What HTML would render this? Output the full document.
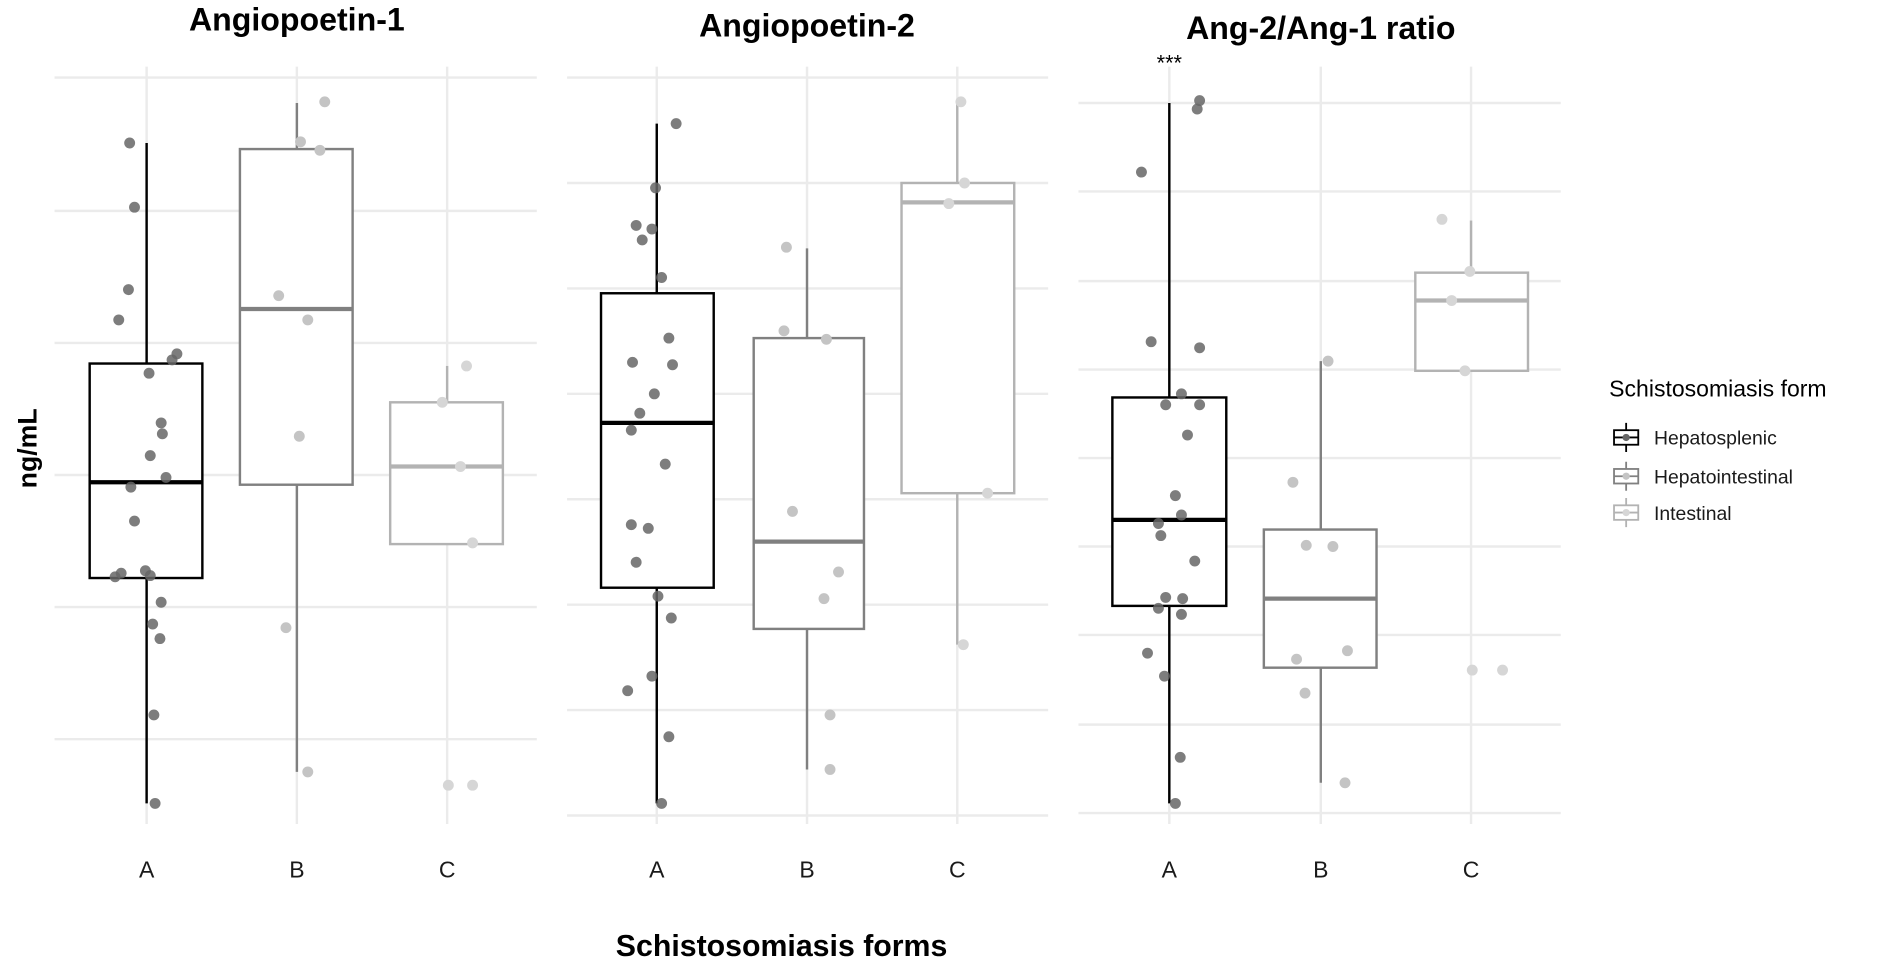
<!DOCTYPE html>
<html><head><meta charset="utf-8"><style>html,body{margin:0;padding:0;background:#fff}svg{display:block}</style></head><body>
<svg width="1900" height="971" viewBox="0 0 1568 801.3" xmlns="http://www.w3.org/2000/svg" font-family="Liberation Sans, Arial, sans-serif">
<g stroke="#ebebeb" stroke-width="2" fill="none">
<path d="M45 64H443M45 174H443M45 283H443M45 392H443M45 501H443M45 610H443M121 55V680M245 55V680M369 55V680"/>
<path d="M468 64H865M468 151H865M468 238H865M468 325H865M468 412H865M468 499H865M468 586H865M468 673H865M542 55V680M666 55V680M790 55V680"/>
<path d="M890 85H1288M890 158H1288M890 232H1288M890 305H1288M890 378H1288M890 451H1288M890 524H1288M890 598H1288M890 671H1288M965 55V680M1090 55V680M1214 55V680"/>
</g>
<g fill="#fff" stroke-width="2">
<g stroke="#000"><path d="M121 118V300M121 477V663"/><rect x="74" y="300" width="93" height="177"/><path d="M74 398H167" stroke-width="3.5"/></g>
<g stroke="#808080"><path d="M245 85V123M245 400V637"/><rect x="198" y="123" width="93" height="277"/><path d="M198 255H291" stroke-width="3.5"/></g>
<g stroke="#b3b3b3"><path d="M369 302V332"/><rect x="322" y="332" width="93" height="117"/><path d="M322 385H415" stroke-width="3.5"/></g>
<g stroke="#000"><path d="M542 102V242M542 485V663"/><rect x="496" y="242" width="93" height="243"/><path d="M496 349H589" stroke-width="3.5"/></g>
<g stroke="#808080"><path d="M666 205V279M666 519V635"/><rect x="622" y="279" width="91" height="240"/><path d="M622 447H713" stroke-width="3.5"/></g>
<g stroke="#b3b3b3"><path d="M790 83V151M790 407V532"/><rect x="744" y="151" width="93" height="256"/><path d="M744 167H837" stroke-width="3.5"/></g>
<g stroke="#000"><path d="M965 85V328M965 500V663"/><rect x="918" y="328" width="94" height="172"/><path d="M918 429H1012" stroke-width="3.5"/></g>
<g stroke="#808080"><path d="M1090 298V437M1090 551V646"/><rect x="1043" y="437" width="93" height="114"/><path d="M1043 494H1136" stroke-width="3.5"/></g>
<g stroke="#b3b3b3"><path d="M1214 182V225"/><rect x="1168" y="225" width="93" height="81"/><path d="M1168 248H1261" stroke-width="3.5"/></g>
</g>
<g fill="#666" fill-opacity="0.85">
<circle cx="107" cy="118" r="4.5"/><circle cx="111" cy="171" r="4.5"/><circle cx="106" cy="239" r="4.5"/><circle cx="98" cy="264" r="4.5"/><circle cx="146" cy="292" r="4.5"/><circle cx="142" cy="297" r="4.5"/><circle cx="123" cy="308" r="4.5"/><circle cx="133" cy="349" r="4.5"/><circle cx="134" cy="358" r="4.5"/><circle cx="124" cy="376" r="4.5"/><circle cx="137" cy="394" r="4.5"/><circle cx="108" cy="402" r="4.5"/><circle cx="111" cy="430" r="4.5"/><circle cx="95" cy="476" r="4.5"/><circle cx="100" cy="473" r="4.5"/><circle cx="120" cy="471" r="4.5"/><circle cx="124" cy="475" r="4.5"/><circle cx="133" cy="497" r="4.5"/><circle cx="126" cy="515" r="4.5"/><circle cx="132" cy="527" r="4.5"/><circle cx="127" cy="590" r="4.5"/><circle cx="128" cy="663" r="4.5"/>
<circle cx="558" cy="102" r="4.5"/><circle cx="541" cy="155" r="4.5"/><circle cx="525" cy="186" r="4.5"/><circle cx="538" cy="189" r="4.5"/><circle cx="530" cy="198" r="4.5"/><circle cx="546" cy="229" r="4.5"/><circle cx="552" cy="279" r="4.5"/><circle cx="522" cy="299" r="4.5"/><circle cx="555" cy="301" r="4.5"/><circle cx="540" cy="325" r="4.5"/><circle cx="528" cy="341" r="4.5"/><circle cx="521" cy="355" r="4.5"/><circle cx="549" cy="383" r="4.5"/><circle cx="521" cy="433" r="4.5"/><circle cx="535" cy="436" r="4.5"/><circle cx="525" cy="464" r="4.5"/><circle cx="543" cy="492" r="4.5"/><circle cx="554" cy="510" r="4.5"/><circle cx="538" cy="558" r="4.5"/><circle cx="518" cy="570" r="4.5"/><circle cx="552" cy="608" r="4.5"/><circle cx="546" cy="663" r="4.5"/>
<circle cx="990" cy="83" r="4.5"/><circle cx="988" cy="90" r="4.5"/><circle cx="942" cy="142" r="4.5"/><circle cx="950" cy="282" r="4.5"/><circle cx="990" cy="287" r="4.5"/><circle cx="975" cy="325" r="4.5"/><circle cx="962" cy="334" r="4.5"/><circle cx="990" cy="334" r="4.5"/><circle cx="980" cy="359" r="4.5"/><circle cx="970" cy="409" r="4.5"/><circle cx="975" cy="425" r="4.5"/><circle cx="956" cy="432" r="4.5"/><circle cx="958" cy="442" r="4.5"/><circle cx="986" cy="463" r="4.5"/><circle cx="962" cy="493" r="4.5"/><circle cx="976" cy="494" r="4.5"/><circle cx="956" cy="502" r="4.5"/><circle cx="975" cy="507" r="4.5"/><circle cx="947" cy="539" r="4.5"/><circle cx="961" cy="558" r="4.5"/><circle cx="974" cy="625" r="4.5"/><circle cx="970" cy="663" r="4.5"/>
</g>
<g fill="#c4c4c4">
<circle cx="268" cy="84" r="4.5"/><circle cx="248" cy="117" r="4.5"/><circle cx="264" cy="124" r="4.5"/><circle cx="230" cy="244" r="4.5"/><circle cx="254" cy="264" r="4.5"/><circle cx="247" cy="360" r="4.5"/><circle cx="236" cy="518" r="4.5"/><circle cx="254" cy="637" r="4.5"/>
<circle cx="649" cy="204" r="4.5"/><circle cx="647" cy="273" r="4.5"/><circle cx="682" cy="280" r="4.5"/><circle cx="654" cy="422" r="4.5"/><circle cx="692" cy="472" r="4.5"/><circle cx="680" cy="494" r="4.5"/><circle cx="685" cy="590" r="4.5"/><circle cx="685" cy="635" r="4.5"/>
<circle cx="1096" cy="298" r="4.5"/><circle cx="1067" cy="398" r="4.5"/><circle cx="1078" cy="450" r="4.5"/><circle cx="1100" cy="451" r="4.5"/><circle cx="1070" cy="544" r="4.5"/><circle cx="1112" cy="537" r="4.5"/><circle cx="1077" cy="572" r="4.5"/><circle cx="1110" cy="646" r="4.5"/>
</g>
<g fill="#d6d6d6">
<circle cx="385" cy="302" r="4.5"/><circle cx="365" cy="332" r="4.5"/><circle cx="380" cy="385" r="4.5"/><circle cx="390" cy="448" r="4.5"/><circle cx="370" cy="648" r="4.5"/><circle cx="390" cy="648" r="4.5"/>
<circle cx="793" cy="84" r="4.5"/><circle cx="796" cy="151" r="4.5"/><circle cx="783" cy="168" r="4.5"/><circle cx="815" cy="407" r="4.5"/><circle cx="795" cy="532" r="4.5"/>
<circle cx="1190" cy="181" r="4.5"/><circle cx="1213" cy="224" r="4.5"/><circle cx="1198" cy="248" r="4.5"/><circle cx="1209" cy="306" r="4.5"/><circle cx="1215" cy="553" r="4.5"/><circle cx="1240" cy="553" r="4.5"/>
</g>
<g font-weight="bold" font-size="26.5" text-anchor="middle" fill="#000">
<text x="245" y="25">Angiopoetin-1</text>
<text x="666" y="30">Angiopoetin-2</text>
<text x="1090" y="32">Ang-2/Ang-1 ratio</text>
</g>
<text x="965" y="58" font-size="18" text-anchor="middle">***</text>
<g font-size="19" text-anchor="middle" fill="#1a1a1a">
<text x="121" y="724">A</text><text x="245" y="724">B</text><text x="369" y="724">C</text>
<text x="542" y="724">A</text><text x="666" y="724">B</text><text x="790" y="724">C</text>
<text x="965" y="724">A</text><text x="1090" y="724">B</text><text x="1214" y="724">C</text>
</g>
<text x="645" y="789" font-size="25" font-weight="bold" text-anchor="middle">Schistosomiasis forms</text>
<text transform="translate(30,370) rotate(-90)" font-size="22" font-weight="bold" text-anchor="middle">ng/mL</text>
<text x="1328" y="327" font-size="19">Schistosomiasis form</text>
<g fill="#fff" stroke-width="1.5">
<g stroke="#000"><path d="M1342 349V355M1342 367V373"/><rect x="1332" y="355" width="20" height="12"/><path d="M1332 361H1352"/></g>
<g stroke="#808080"><path d="M1342 381V387M1342 399V405"/><rect x="1332" y="387" width="20" height="12"/><path d="M1332 393H1352"/></g>
<g stroke="#b3b3b3"><path d="M1342 411V417M1342 429V435"/><rect x="1332" y="417" width="20" height="12"/><path d="M1332 423H1352"/></g>
</g>
<circle cx="1342" cy="361" r="3" fill="#666"/><circle cx="1342" cy="393" r="3" fill="#c4c4c4"/><circle cx="1342" cy="423" r="3" fill="#d6d6d6"/>
<g font-size="16" fill="#1a1a1a"><text x="1365" y="367">Hepatosplenic</text><text x="1365" y="399">Hepatointestinal</text><text x="1365" y="429">Intestinal</text></g>
</svg>
</body></html>
